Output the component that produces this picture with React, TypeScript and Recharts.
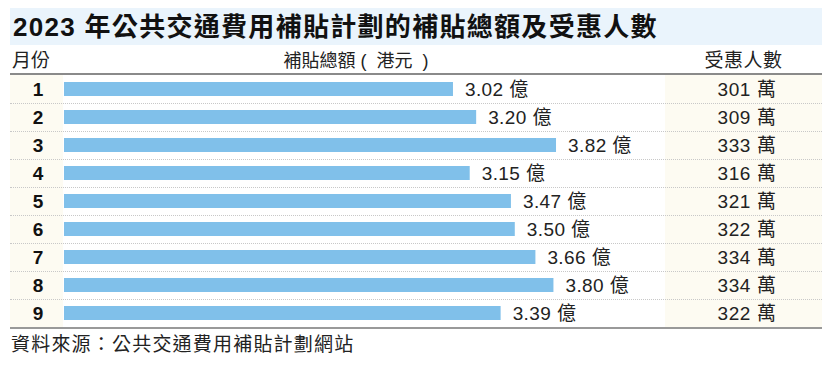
import { Bar, BarChart, LabelList, XAxis, YAxis } from "recharts";

const months = ["1", "2", "3", "4", "5", "6", "7", "8", "9"];
const subsidy = [3.02, 3.2, 3.82, 3.15, 3.47, 3.5, 3.66, 3.8, 3.39];
const beneficiaries = [301, 309, 333, 316, 321, 322, 334, 334, 322];

const data = months.map((m, i) => ({
  month: m,
  subsidy: subsidy[i],
  people: beneficiaries[i],
}));

const font = '"Liberation Sans", Arial, "Noto Sans CJK TC", sans-serif';

const MonthTick = (props: any) => {
  const { x, y, payload } = props;
  return (
    <text x={x - 18} y={y} dy={7} textAnchor="middle" fontSize={19} fontWeight="bold" fill="#111" fontFamily={font}>
      {payload.value}
    </text>
  );
};

const PeopleTick = (props: any) => {
  const { x, y, index } = props;
  return (
    <text x={x + 31} y={y} dy={7} textAnchor="middle" fontSize={19} letterSpacing={0.6} fill="#222" fontFamily={font}>
      {`${beneficiaries[index]} 萬`}
    </text>
  );
};

export default function App() {
  return (
    <div style={{ position: "relative", width: 830, height: 367, margin: -8, background: "#fff", fontFamily: font, color: "#222" }}>
      <div style={{ position: "absolute", left: 10, top: 8, width: 812, height: 37, background: "#eaf4fc" }} />
      <div style={{ position: "absolute", left: 13, top: 10, fontSize: 26, fontWeight: "bold", color: "#111", lineHeight: "34px", letterSpacing: 1.3, whiteSpace: "nowrap" }}>
        2023 年公共交通費用補貼計劃的補貼總額及受惠人數
      </div>
      <div style={{ position: "absolute", left: 12, top: 49, fontSize: 19, lineHeight: "24px" }}>月份</div>
      <div style={{ position: "absolute", left: 256, width: 200, textAlign: "center", top: 49, fontSize: 18, lineHeight: "24px", whiteSpace: "pre" }}>補貼總額 (  港元  )</div>
      <div style={{ position: "absolute", left: 665, width: 157, textAlign: "center", top: 49, fontSize: 19, lineHeight: "24px", letterSpacing: 0.5 }}>受惠人數</div>
      <div style={{ position: "absolute", left: 10, top: 75, width: 53, height: 252, background: "#fdfbf2" }} />
      <div style={{ position: "absolute", left: 665, top: 75, width: 157, height: 252, background: "#fdfbf2" }} />
      {months.slice(0, 8).map((m, i) => (
        <div key={m} style={{ position: "absolute", left: 10, top: 75 + 28 * (i + 1), width: 812, borderTop: "1px dotted #c8c8c8" }} />
      ))}
      <div style={{ position: "absolute", left: 10, top: 73, width: 812, height: 2, background: "#8a8a8a" }} />
      <div style={{ position: "absolute", left: 10, top: 327, width: 812, height: 1.5, background: "#999" }} />
      <div style={{ position: "absolute", left: 0, top: 75 }}>
        <BarChart width={830} height={252} data={data} layout="vertical" margin={{ top: 0, right: 0, bottom: 0, left: 0 }}>
          <XAxis type="number" domain={[0, 5]} hide />
          <YAxis yAxisId="l" type="category" dataKey="month" width={64} axisLine={false} tickLine={false} tick={<MonthTick />} interval={0} />
          <YAxis yAxisId="r" orientation="right" type="category" dataKey="month" width={122} axisLine={false} tickLine={false} tick={<PeopleTick />} interval={0} />
          <Bar yAxisId="l" dataKey="subsidy" fill="#80c0ea" barSize={14} isAnimationActive={false}>
            <LabelList
              dataKey="subsidy"
              position="right"
              offset={12}
              formatter={(v: any) => `${Number(v).toFixed(2)} 億`}
              style={{ fontSize: 19, fill: "#222", fontFamily: font, letterSpacing: 0.4 }}
            />
          </Bar>
        </BarChart>
      </div>
      <div style={{ position: "absolute", left: 11, top: 332, fontSize: 19, lineHeight: "26px", letterSpacing: 1.2 }}>資料來源：公共交通費用補貼計劃網站</div>
    </div>
  );
}
